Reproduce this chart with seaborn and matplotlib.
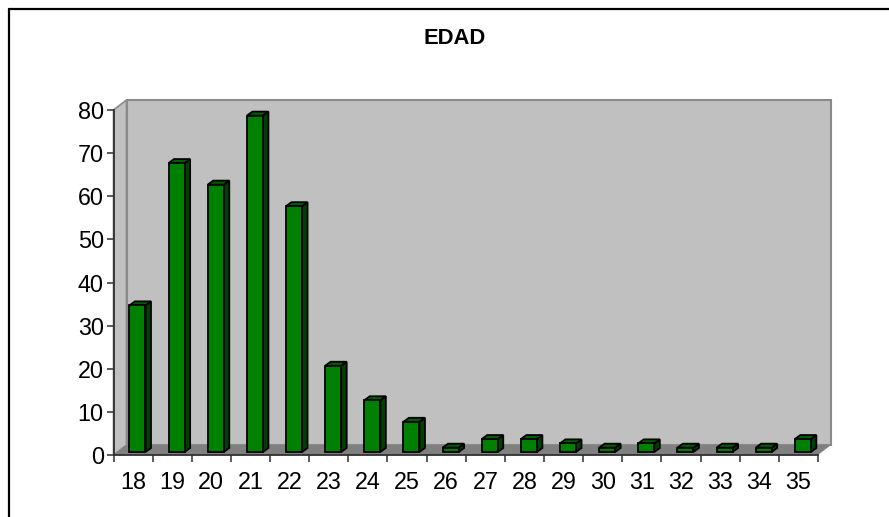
import numpy as np
import pandas as pd
import matplotlib
matplotlib.use("Agg")
import matplotlib.pyplot as plt
from matplotlib.patches import Polygon
from matplotlib.lines import Line2D
from matplotlib.transforms import Affine2D
import seaborn as sns

ages = [str(a) for a in range(18, 36)]
counts = [34, 67, 62, 78, 57, 20, 12, 7, 1, 3, 3, 2, 1, 2, 1, 1, 1, 3]
yticks = [0, 10, 20, 30, 40, 50, 60, 70, 80]

W, H = 889, 517
sns.set_style("white")
plt.rcParams["font.family"] = ["Liberation Sans", "DejaVu Sans"]

# pixel positions of the plot box, measured on the picture
left, right, bottom, top = 113.5, 818, 455, 110
dx, dy = 13, 10


def px(points):
    return [(x, H - y) for x, y in points]


def add_poly(fig, points, **kw):
    p = Polygon(points, closed=True, transform=None, clip_on=False, **kw)
    fig.add_artist(p)
    return p


fig = plt.figure(figsize=(W / 100, H / 100), dpi=100)
fig.patch.set_facecolor("white")
ax = fig.add_axes([left / W, 1 - bottom / H, (right - left) / W, (bottom - top) / H])
ax.patch.set_alpha(0)

df = pd.DataFrame({"age": ages, "count": counts})
sns.barplot(x="age", y="count", data=df, color="#008000", saturation=1, width=0.41,
            edgecolor="black", linewidth=1.3, ax=ax, zorder=5)

ax.set_xlim(-0.5, 17.5)
ax.set_ylim(0, 80)
ax.set_xlabel("")
ax.set_ylabel("")
ax.set_yticks(yticks)

# 3d box behind the bars
wall = "#c0c0c0"
edge = "#8a8a8a"
add_poly(fig, px([(left, bottom), (left, top), (left + dx, top - dy), (left + dx, bottom - dy)]),
         facecolor=wall, edgecolor=edge, linewidth=1.2, zorder=-3)
add_poly(fig, px([(left + dx, bottom - dy), (left + dx, top - dy), (right + dx, top - dy), (right + dx, bottom - dy)]),
         facecolor=wall, edgecolor=edge, linewidth=1.5, zorder=-3)
add_poly(fig, px([(left, bottom), (right, bottom), (right + dx, bottom - dy), (left + dx, bottom - dy)]),
         facecolor="#808080", edgecolor="none", zorder=-2)

# bars stand a bit inside the floor, with side and top faces
shift_x, shift_y = 4.4, 3
depth_x, depth_y = 5.5, 4
fig.canvas.draw()
for bar in ax.patches:
    bar.set_transform(ax.transData + Affine2D().translate(shift_x, shift_y))
    bar.set_clip_on(False)
    x0, y0 = ax.transData.transform((bar.get_x(), 0)) + (shift_x, shift_y)
    x1, y1 = ax.transData.transform((bar.get_x() + bar.get_width(), bar.get_height())) + (shift_x, shift_y)
    side = Polygon([(x1, y0), (x1 + depth_x, y0 + depth_y), (x1 + depth_x, y1 + depth_y), (x1, y1)],
                   transform=None, facecolor="#004000", edgecolor="black", linewidth=1.3,
                   clip_on=False, zorder=4)
    cap = Polygon([(x0, y1), (x1, y1), (x1 + depth_x, y1 + depth_y), (x0 + depth_x, y1 + depth_y)],
                  transform=None, facecolor="#006000", edgecolor="black", linewidth=1.3,
                  clip_on=False, zorder=4)
    ax.add_artist(side)
    ax.add_artist(cap)

sns.despine(ax=ax, top=True, right=True)
for s in ["left", "bottom"]:
    ax.spines[s].set_color("#303030")
    ax.spines[s].set_linewidth(1.3)
    ax.spines[s].set_zorder(3)

ax.set_xticks(np.arange(-0.5, 18, 1), minor=True)
ax.tick_params(axis="x", which="major", length=0, pad=11.5, labelsize=16.8, labelcolor="black")
ax.tick_params(axis="x", which="minor", bottom=True, length=5, width=1.2, color="#404040")
ax.tick_params(axis="y", which="major", left=True, length=5, width=1.2, color="#404040", pad=2,
               labelsize=16.8, labelcolor="black")

fig.text(454.5 / W, 1 - 38 / H, "EDAD", ha="center", va="center", fontsize=15.8, fontweight="bold", color="black")

# outer frame of the pasted chart, open on the right and bottom
fig.add_artist(Line2D([8.5 / W, 8.5 / W], [0, 1 - 8.5 / H], color="black", linewidth=1.6))
fig.add_artist(Line2D([8.5 / W, 1], [1 - 8.5 / H, 1 - 8.5 / H], color="black", linewidth=1.6))

fig.savefig("out.png", dpi=100)
